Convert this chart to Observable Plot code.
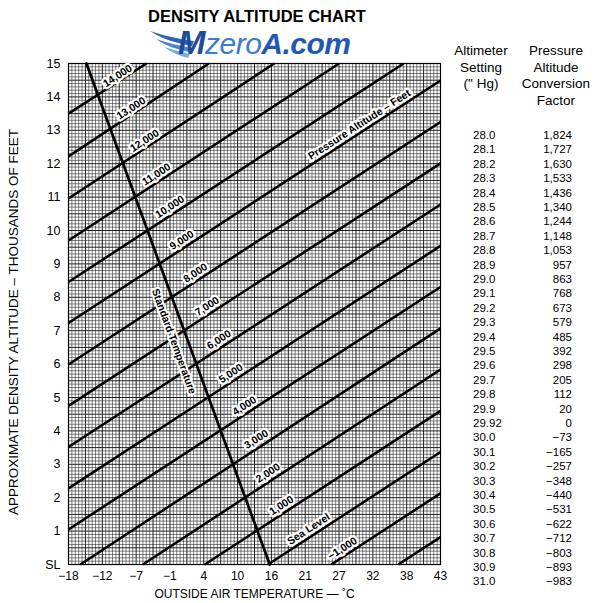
<!DOCTYPE html>
<html><head><meta charset="utf-8">
<script src="https://cdn.jsdelivr.net/npm/d3@7"></script>
<script src="https://cdn.jsdelivr.net/npm/@observablehq/plot@0.6"></script>
<style>
body{margin:0;background:#fff;font-family:"Liberation Sans",Arial,Helvetica,sans-serif;color:#000;}
#wrap{position:relative;width:600px;height:603px;overflow:hidden;background:#fff;}
#chart{position:absolute;left:0;top:0;}
.abs{position:absolute;white-space:nowrap;}
</style></head><body><div id="wrap"><div id="chart"></div></div>
<script>
// ---- axis tick data (x positions are the chart's °F grid, labels in °C) ----
const xTickValues = [0, 10, 20, 30, 40, 50, 60, 70, 80, 90, 100, 110];
const xTickLabels = ["−18", "−12", "−7", "−1", "4", "10", "16", "21", "27", "32", "38", "43"];
const yTickValues = [0, 1, 2, 3, 4, 5, 6, 7, 8, 9, 10, 11, 12, 13, 14, 15];
const yTickLabels = ["SL", "1", "2", "3", "4", "5", "6", "7", "8", "9", "10", "11", "12", "13", "14", "15"];

// ---- pressure-altitude lines (thousands of ft), endpoints ----
const paThousands = [14, 13, 12, 11, 10, 9, 8, 7, 6, 5, 4, 3, 2, 1, 0, -1, -2];
const lineStartT  = [0, 0, 0, 0, 0, 0, 0, 0, 0, 0, 0, 3.5, 22.0, 40.3, 59.0, 77.7, 97.5];
const lineStartDA = [13.50, 12.22, 10.96, 9.70, 8.46, 7.23, 5.99, 4.75, 3.52, 2.28, 1.05, 0, 0, 0, 0, 0, 0];
const lineEndT    = [23.0, 41.5, 60.8, 80.0, 99.1, 110, 110, 110, 110, 110, 110, 110, 110, 110, 110, 110, 110];
const lineEndDA   = [15, 15, 15, 15, 15, 14.49, 13.25, 12.01, 10.78, 9.54, 8.31, 7.07, 5.84, 4.60, 3.37, 2.13, 0.82];

// ---- standard temperature line ----
const stdT  = [59.5, 5.3];
const stdDA = [0, 15];

// ---- line labels ----
const labelText = ["14,000", "13,000", "12,000", "11,000", "10,000", "9,000", "8,000", "7,000", "6,000", "5,000", "4,000", "3,000", "2,000", "1,000", "Sea Level", "−1,000", "Pressure Altitude – Feet"];
const labelT  = [14.5, 18.5, 22.5, 26, 30, 33.5, 37.5, 41, 44.5, 48, 52, 55.5, 59, 63, 71, 81, 86];
const labelDA = [14.36, 13.39, 12.42, 11.41, 10.44, 9.44, 8.46, 7.46, 6.46, 5.45, 4.48, 3.48, 2.47, 1.50, 0.79, 0.21, 12.90];

// ---- conversion table ----
const altimeterSetting = ["28.0", "28.1", "28.2", "28.3", "28.4", "28.5", "28.6", "28.7", "28.8", "28.9", "29.0", "29.1", "29.2", "29.3", "29.4", "29.5", "29.6", "29.7", "29.8", "29.9", "29.92", "30.0", "30.1", "30.2", "30.3", "30.4", "30.5", "30.6", "30.7", "30.8", "30.9", "31.0"];
const conversionFactor = ["1,824", "1,727", "1,630", "1,533", "1,436", "1,340", "1,244", "1,148", "1,053", "957", "863", "768", "673", "579", "485", "392", "298", "205", "112", "20", "0", "−73", "−165", "−257", "−348", "−440", "−531", "−622", "−712", "−803", "−893", "−983"];

const lines = paThousands.map((pa, i) => ({pa, x1: lineStartT[i], y1: lineStartDA[i], x2: lineEndT[i], y2: lineEndDA[i]}));
const labels = labelText.map((t, i) => ({text: t, t: labelT[i], a: labelDA[i]}));
const stdRows = stdT.map((t, i) => ({t, a: stdDA[i]}));

const xMinor = d3.range(0, 111).filter(d => d % 5 !== 0);
const xMajor = d3.range(0, 111, 5);
const yMinor = d3.range(0, 151).filter(d => d % 5 !== 0).map(d => d / 10);
const yMajor = d3.range(0, 151, 5).map(d => d / 10);

const chart = Plot.plot({
  width: 600, height: 603,
  marginLeft: 68, marginRight: 160, marginTop: 63, marginBottom: 39,
  style: {fontFamily: '"Liberation Sans", Arial, Helvetica, sans-serif', fontSize: "12px", background: "white", color: "black"},
  x: {domain: [0, 110]},
  y: {domain: [0, 15]},
  marks: [
    Plot.ruleX(xMinor, {stroke: "#000", strokeWidth: 0.6, strokeOpacity: 0.82}),
    Plot.ruleY(yMinor, {stroke: "#000", strokeWidth: 0.6, strokeOpacity: 0.82}),
    Plot.ruleX(xMajor, {stroke: "#000", strokeWidth: 0.95, strokeOpacity: 0.9}),
    Plot.ruleY(yMajor, {stroke: "#000", strokeWidth: 0.95, strokeOpacity: 0.9}),
    Plot.frame({stroke: "black", strokeWidth: 1.2}),
    Plot.link(lines, {x1: "x1", y1: "y1", x2: "x2", y2: "y2", stroke: "black", strokeWidth: 2.5}),
    Plot.line(stdRows, {x: "t", y: "a", stroke: "black", strokeWidth: 2.7}),
    Plot.text(labels, {x: "t", y: "a", text: "text", rotate: -33, dy: -9, fontSize: 10.5, fontWeight: "bold", fill: "black", stroke: "white", strokeWidth: 4.5}),
    Plot.text(["Standard Temperature"], {x: () => 34.7, y: () => 6.8, text: d => d, rotate: 70, dx: -12, dy: 4, fontSize: 10.5, fontWeight: "bold", fill: "black", stroke: "white", strokeWidth: 4}),
    Plot.axisX({ticks: xTickValues, tickFormat: d => xTickLabels[xTickValues.indexOf(d)], tickSize: 0, tickPadding: 7, label: null, fontSize: 12}),
    Plot.axisY({ticks: yTickValues, tickFormat: d => yTickLabels[yTickValues.indexOf(d)], tickSize: 0, tickPadding: 8, label: null, fontSize: 12.5}),
    Plot.text(["OUTSIDE AIR TEMPERATURE — ˚C"], {frameAnchor: "bottom", dy: 33, text: d => d, fontSize: 12, fill: "black"}),
    Plot.text(["APPROXIMATE DENSITY ALTITUDE – THOUSANDS OF FEET"], {frameAnchor: "left", textAnchor: "middle", lineAnchor: "middle", dx: -55, dy: 8, rotate: -90, text: d => d, fontSize: 13.5, fill: "black"})
  ]
});
const wrap = document.getElementById("wrap");
document.getElementById("chart").appendChild(chart);

function addDiv(html, css) {
  const d = document.createElement("div");
  d.className = "abs";
  d.innerHTML = html;
  Object.assign(d.style, css);
  wrap.appendChild(d);
  return d;
}

// title
addDiv("DENSITY ALTITUDE CHART", {left: "107px", width: "300px", textAlign: "center", top: "7px", lineHeight: "19px", fontSize: "16.5px", fontWeight: "bold"});

// logo
const logo = document.createElementNS("http://www.w3.org/2000/svg", "svg");
logo.setAttribute("width", "60"); logo.setAttribute("height", "32");
logo.style.position = "absolute"; logo.style.left = "148px"; logo.style.top = "29px";
logo.innerHTML = `
  <path d="M2,2 C14,6 30,10 46,12 L44,17 C28,14 14,10 2,2 Z" fill="#2a63b8"/>
  <path d="M8,10 C20,14 32,17 44,19 L42,23 C30,21 18,17 8,10 Z" fill="#4d86cf"/>
  <path d="M16,18 C26,21 34,23 42,25 L40,29 C32,27 24,24 16,18 Z" fill="#7aaae0"/>`;
wrap.appendChild(logo);
addDiv('<span style="color:#1d4b97;font-weight:bold;font-size:33px">M</span><span style="color:#3d7bcb;font-weight:normal">zero</span><span style="color:#1f59b3;font-weight:bold">A.com</span>',
  {left: "178px", top: "28px", fontSize: "30px", fontStyle: "italic", lineHeight: "29px", letterSpacing: "-0.5px"});

// table headers
addDiv("Altimeter<br>Setting<br>(\" Hg)", {left: "431px", width: "100px", textAlign: "center", top: "43px", fontSize: "13.5px", lineHeight: "16.5px", whiteSpace: "normal"});
addDiv("Pressure<br>Altitude<br>Conversion<br>Factor", {left: "506px", width: "100px", textAlign: "center", top: "43px", fontSize: "13.5px", lineHeight: "16.5px", whiteSpace: "normal"});

// table rows
altimeterSetting.forEach((s, i) => {
  const top = 135 - 7 + i * 14.4;
  addDiv(s, {left: "473px", top: top + "px", fontSize: "11.5px", lineHeight: "14px"});
  addDiv(conversionFactor[i], {left: "512px", width: "60px", textAlign: "right", top: top + "px", fontSize: "11.5px", lineHeight: "14px"});
});
</script></body></html>
